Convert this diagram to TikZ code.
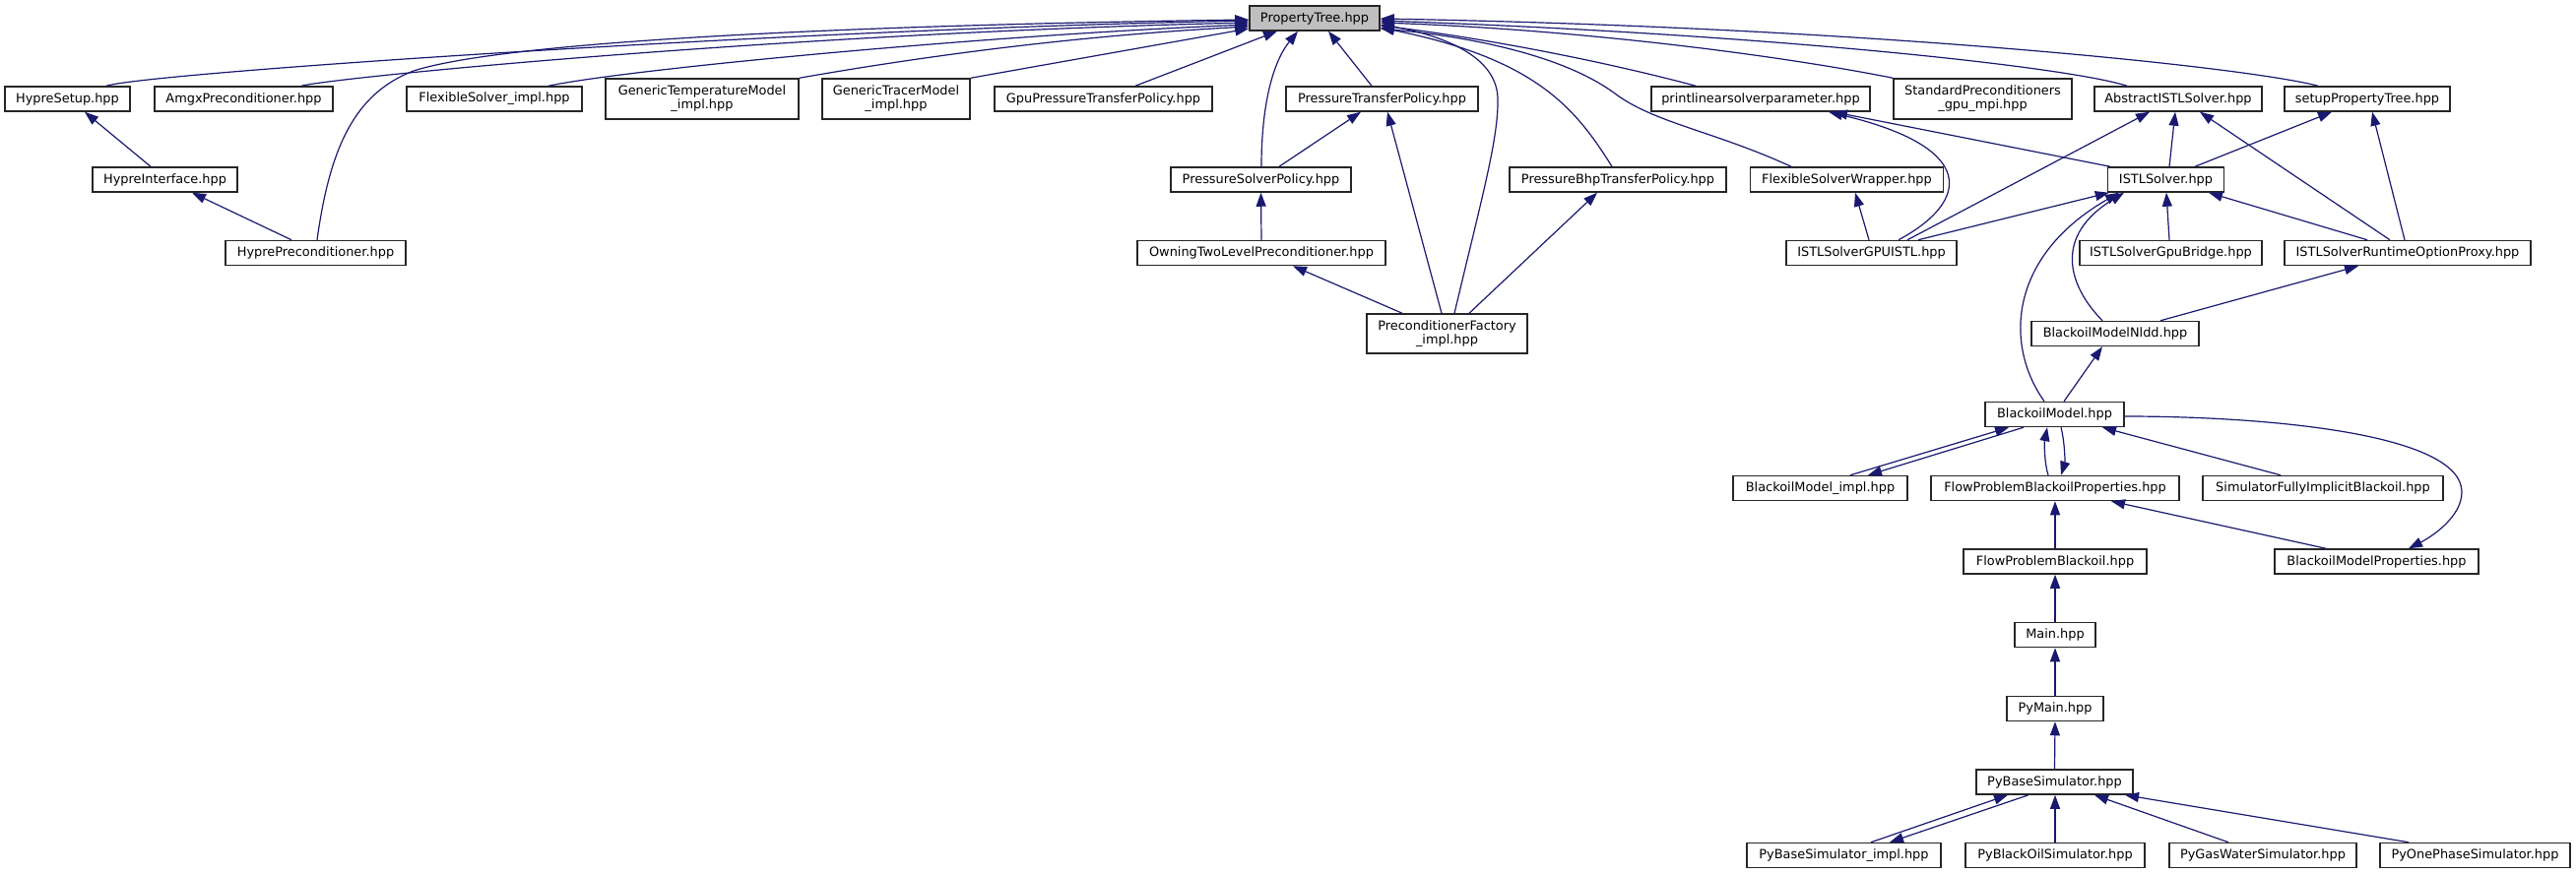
\documentclass[tikz,border=0pt]{standalone}
\usepackage{fontspec}
\setmainfont{DejaVu Sans}
\usetikzlibrary{arrows.meta}
\definecolor{edgeblue}{HTML}{191970}
\definecolor{rootgray}{HTML}{BFBFBF}
\begin{document}
\begin{tikzpicture}[x=1pt,y=-1pt,
 box/.style={draw=black!85, line width=1.5pt, fill=white, inner sep=0pt, minimum height=25pt, align=center,
   font=\fontsize{12.9}{14}\selectfont},
 tall/.style={minimum height=41pt},
 edge/.style={draw=edgeblue, line width=1.2pt, -{Triangle[length=14pt,width=10pt]}},
]
\fill[white] (0,0) rectangle (2616,888);
\useasboundingbox (0,0) rectangle (2616,888);

% row 1
\node[box, fill=rootgray, minimum width=132pt] (pt) at (1335,18.5) {PropertyTree.hpp};
% row 2
\node[box, minimum width=127pt] (hs) at (68.5,100.5) {HypreSetup.hpp};
\node[box, minimum width=181pt] (amgx) at (247.5,100.5) {AmgxPreconditioner.hpp};
\node[box, minimum width=178pt] (fsi) at (502,100.5) {FlexibleSolver\_impl.hpp};
\node[box, tall, minimum width=196pt] (gtm) at (713,100.5) {GenericTemperatureModel\\\_impl.hpp};
\node[box, tall, minimum width=150pt] (gtr) at (910,100.5) {GenericTracerModel\\\_impl.hpp};
\node[box, minimum width=221pt] (gpt) at (1120.5,100.5) {GpuPressureTransferPolicy.hpp};
\node[box, minimum width=195pt] (ptp) at (1403.5,100.5) {PressureTransferPolicy.hpp};
\node[box, minimum width=222pt] (pls) at (1788,100.5) {printlinearsolverparameter.hpp};
\node[box, tall, minimum width=181pt] (spg) at (2013.5,100.5) {StandardPreconditioners\\\_gpu\_mpi.hpp};
\node[box, minimum width=170pt] (ais) at (2212,100.5) {AbstractISTLSolver.hpp};
\node[box, minimum width=168pt] (spt) at (2404,100.5) {setupPropertyTree.hpp};
% row 3
\node[box, minimum width=147pt] (hi) at (167.5,182.5) {HypreInterface.hpp};
\node[box, minimum width=183pt] (psp) at (1280.5,182.5) {PressureSolverPolicy.hpp};
\node[box, minimum width=220pt] (pbt) at (1643,182.5) {PressureBhpTransferPolicy.hpp};
\node[box, minimum width=196pt] (fsw) at (1875.5,182.5) {FlexibleSolverWrapper.hpp};
\node[box, minimum width=118pt] (istl) at (2199.5,182.5) {ISTLSolver.hpp};
% row 4
\node[box, minimum width=183pt] (hp) at (320.5,257) {HyprePreconditioner.hpp};
\node[box, minimum width=252pt] (otl) at (1281,257) {OwningTwoLevelPreconditioner.hpp};
\node[box, minimum width=173pt] (gpu) at (1900.5,257) {ISTLSolverGPUISTL.hpp};
\node[box, minimum width=185pt] (bridge) at (2204.5,257) {ISTLSolverGpuBridge.hpp};
\node[box, minimum width=250pt] (rop) at (2445,257) {ISTLSolverRuntimeOptionProxy.hpp};
% row 5
\node[box, minimum height=40pt, minimum width=163pt] (pfi) at (1469.5,339) {PreconditionerFactory\\\_impl.hpp};
\node[box, minimum width=170pt] (nldd) at (2148,339) {BlackoilModelNldd.hpp};
% lower rows
\node[box, minimum width=141pt] (bm) at (2086.5,421) {BlackoilModel.hpp};
\node[box, minimum width=177pt] (bmi) at (1848.5,496) {BlackoilModel\_impl.hpp};
\node[box, minimum width=252pt] (fpbp) at (2087,496) {FlowProblemBlackoilProperties.hpp};
\node[box, minimum width=244pt] (sfib) at (2359,496) {SimulatorFullyImplicitBlackoil.hpp};
\node[box, minimum width=186pt] (fpb) at (2087,570.5) {FlowProblemBlackoil.hpp};
\node[box, minimum width=207pt] (bmp) at (2413.5,570.5) {BlackoilModelProperties.hpp};
\node[box, minimum width=82pt] (main) at (2087,645) {Main.hpp};
\node[box, minimum width=98pt] (pymain) at (2087,720) {PyMain.hpp};
\node[box, minimum width=159pt] (pbs) at (2086.5,794.5) {PyBaseSimulator.hpp};
\node[box, minimum width=197pt] (pbsi) at (1872.5,869) {PyBaseSimulator\_impl.hpp};
\node[box, minimum width=182pt] (pbo) at (2087,869) {PyBlackOilSimulator.hpp};
\node[box, minimum width=190pt] (pgw) at (2298,869) {PyGasWaterSimulator.hpp};
\node[box, minimum width=193pt] (pop) at (2513.5,869) {PyOnePhaseSimulator.hpp};

% edges to PropertyTree (left side)
\draw[edge] ([xshift=39.5pt]hs.north) .. controls (150,74) and (800,30) .. ([yshift=-2.5pt]pt.west);
\draw[edge] ([xshift=58.5pt]amgx.north) .. controls (345,78) and (800,34) .. ([yshift=-4.5pt]pt.west);
\draw[edge] ([xshift=1.5pt]hp.north) .. controls (335,150) and (360,95) .. (420,72) .. controls (520,40) and (900,25) .. ([yshift=-1.5pt]pt.west);
\draw[edge] ([xshift=55pt]fsi.north) .. controls (640,70) and (1000,36) .. ([yshift=-6.5pt]pt.west);
\draw[edge] (gtm.north east) .. controls (950,55) and (1100,36) .. ([yshift=-8.5pt]pt.west);
\draw[edge] (gtr.north east) -- ([yshift=-10.5pt]pt.west);
\draw[edge] ([xshift=32.5pt]gpt.north) -- ([xshift=-38pt]pt.south);
\draw[edge] ([xshift=0.5pt]psp.north) .. controls (1281,100) and (1295,60) .. ([xshift=-17pt]pt.south);
\draw[edge] ([xshift=-10.5pt]ptp.north) -- ([xshift=14pt]pt.south);
% edges to PropertyTree (right side)
\draw[edge] ([xshift=7.5pt]pfi.north) .. controls (1505,200) and (1522,140) .. (1521,100) .. controls (1520,55) and (1460,35) .. ([yshift=-6.5pt]pt.east);
\draw[edge] ([xshift=-6pt]pbt.north) .. controls (1600,110) and (1560,60) .. ([yshift=-9.5pt]pt.east);
\draw[edge] ([xshift=-56.5pt]fsw.north) .. controls (1740,133) and (1680,125) .. (1640,95) .. controls (1590,58) and (1500,38) .. ([yshift=-10.5pt]pt.east);
\draw[edge] ([xshift=-66pt]pls.north) .. controls (1620,60) and (1500,38) .. ([yshift=-7.5pt]pt.east);
\draw[edge] (spg.north west) .. controls (1800,55) and (1600,30) .. ([yshift=-4.5pt]pt.east);
\draw[edge] ([xshift=-52pt]ais.north) .. controls (2100,68) and (1800,35) .. ([yshift=-2.5pt]pt.east);
\draw[edge] ([xshift=-50pt]spt.north) .. controls (2280,68) and (1900,28) .. ([yshift=-0.5pt]pt.east);

% left group
\draw[edge] ([xshift=-14.5pt]hi.north) -- ([xshift=17.5pt]hs.south);
\draw[edge] ([xshift=-24.5pt]hp.north) -- ([xshift=27.5pt]hi.south);
% pressure group
\draw[edge] ([xshift=18.5pt]psp.north) -- ([xshift=-21.5pt]ptp.south);
\draw[edge] (otl.north) -- (psp.south);
\draw[edge] ([xshift=-45.5pt]pfi.north) -- ([xshift=32pt]otl.south);
\draw[edge] ([xshift=-5.5pt]pfi.north) -- ([xshift=5.5pt]ptp.south);
\draw[edge] ([xshift=22.5pt]pfi.north) -- ([xshift=-21pt]pbt.south);
% ISTL group
\draw[edge] ([xshift=-2.5pt]gpu.north) -- ([xshift=8.5pt]fsw.south);
\draw[edge] ([xshift=27.5pt]gpu.north) .. controls (2000,205) and (2010,150) .. ([xshift=69pt]pls.south);
\draw[edge] ([xshift=-56.5pt]istl.north) -- ([xshift=74pt]pls.south);
\draw[edge] ([xshift=36.5pt]gpu.north) -- ([xshift=-29pt]ais.south);
\draw[edge] ([xshift=3.5pt]istl.north) -- ([xshift=-3pt]ais.south);
\draw[edge] ([xshift=-18pt]rop.north) -- ([xshift=22pt]ais.south);
\draw[edge] ([xshift=29.5pt]istl.north) -- ([xshift=-36pt]spt.south);
\draw[edge] ([xshift=-3pt]rop.north) -- ([xshift=5pt]spt.south);
\draw[edge] ([xshift=47.5pt]gpu.north) -- ([xshift=2pt]istl.south west);
\draw[edge] ([xshift=-1.5pt]bridge.north) -- ([xshift=0.5pt]istl.south);
\draw[edge] ([xshift=-41pt]rop.north) -- ([xshift=43.5pt]istl.south);
\draw[edge] ([xshift=-13pt]nldd.north) .. controls (2100,290) and (2085,240) .. ([xshift=-42.5pt]istl.south);
\draw[edge] ([xshift=-10.5pt]bm.north) .. controls (2035,350) and (2040,260) .. ([xshift=-47.5pt]istl.south);
\draw[edge] ([xshift=46pt]nldd.north) -- ([xshift=-50pt]rop.south);
\draw[edge] ([xshift=9.5pt]bm.north) -- ([xshift=-13pt]nldd.south);
% Blackoil group
\draw[edge] ([xshift=30.5pt]bmi.north) -- ([xshift=-46.5pt]bm.south);
\draw[edge] ([xshift=-31.5pt]bm.south) -- ([xshift=48.5pt]bmi.north);
\draw[edge] ([xshift=-7pt]fpbp.north) .. controls (2076,470) and (2076,450) .. ([xshift=-7.5pt]bm.south);
\draw[edge] ([xshift=6.5pt]bm.south) .. controls (2097,450) and (2097,470) .. ([xshift=6pt]fpbp.north);
\draw[edge] ([xshift=-43pt]sfib.north) -- ([xshift=48.5pt]bm.south);
\draw[edge] ([yshift=-2pt]bm.east) .. controls (2300,423) and (2500,440) .. (2500,500) .. controls (2500,525) and (2470,545) .. ([xshift=32.5pt]bmp.north);
\draw[edge] ([xshift=-51.5pt]bmp.north) -- ([xshift=57pt]fpbp.south);
\draw[edge] (fpb.north) -- (fpbp.south);
\draw[edge] (main.north) -- (fpb.south);
\draw[edge] (pymain.north) -- (main.south);
\draw[edge] (pbs.north) -- (pymain.south);
\draw[edge] ([xshift=27.5pt]pbsi.north) -- ([xshift=-47.5pt]pbs.south);
\draw[edge] ([xshift=-26.5pt]pbs.south) -- ([xshift=46.5pt]pbsi.north);
\draw[edge] (pbo.north) -- ([xshift=0.5pt]pbs.south);
\draw[edge] ([xshift=-35pt]pgw.north) -- ([xshift=40.5pt]pbs.south);
\draw[edge] ([xshift=-67.5pt]pop.north) -- ([xshift=71.5pt]pbs.south);
\end{tikzpicture}
\end{document}
